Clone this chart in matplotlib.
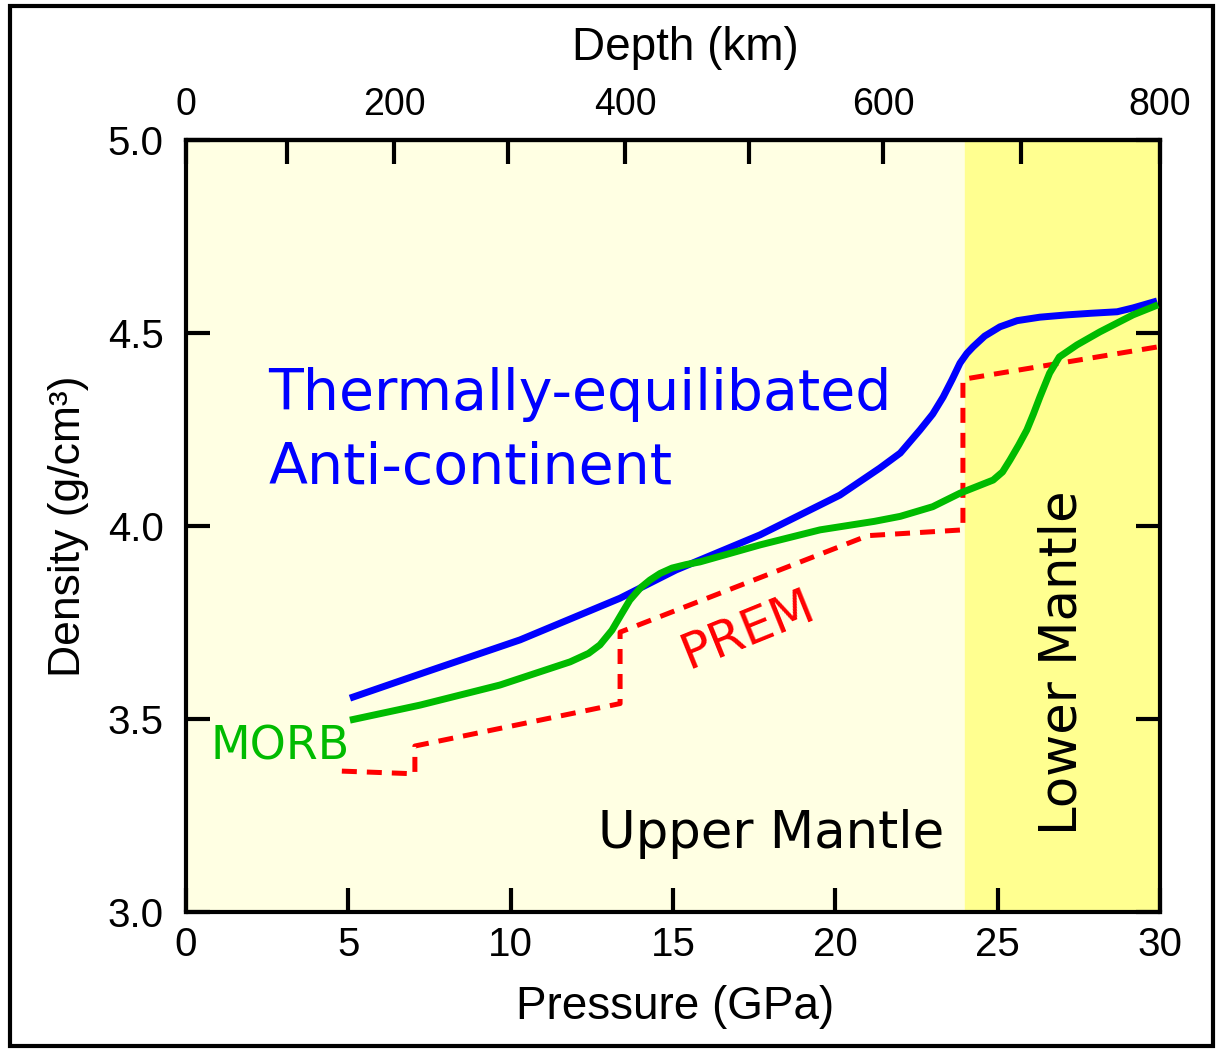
import matplotlib
matplotlib.use("Agg")
import matplotlib.pyplot as plt
from matplotlib.patches import Rectangle
import numpy as np

# Thermally-equilibrated anti-continent (blue)
blue_p = [5.05, 7.5, 10.29, 13.37, 15.09, 17.68, 20.14, 21.37, 22.0, 22.61, 23.0,
          23.32, 23.6, 23.84, 24.05, 24.24, 24.6, 25.07, 25.6, 26.3, 27.14, 27.85,
          28.68, 29.17, 29.91]
blue_d = [3.554, 3.625, 3.705, 3.813, 3.886, 3.977, 4.08, 4.15, 4.189, 4.249, 4.29,
          4.334, 4.38, 4.422, 4.447, 4.464, 4.492, 4.516, 4.532, 4.541, 4.547, 4.551,
          4.555, 4.565, 4.583]

# MORB (green)
morb_p = [5.05, 7.21, 9.67, 11.83, 12.4, 12.75, 13.12, 13.4, 13.67, 14.0, 14.29,
          14.6, 14.97, 15.4, 15.83, 17.68, 19.53, 21.2, 22.0, 23.0, 23.84, 24.5,
          24.86, 25.15, 25.38, 25.65, 25.9, 26.1, 26.3, 26.6, 26.9, 27.44, 28.15,
          29.17, 29.94]
morb_d = [3.497, 3.536, 3.588, 3.648, 3.67, 3.692, 3.73, 3.77, 3.808, 3.84, 3.86,
          3.877, 3.891, 3.9, 3.907, 3.951, 3.99, 4.012, 4.025, 4.05, 4.085, 4.107,
          4.119, 4.14, 4.171, 4.21, 4.249, 4.29, 4.334, 4.396, 4.438, 4.469, 4.503,
          4.547, 4.573]

# PREM (red dashed)
prem_p = [4.8, 7.05, 7.05, 13.37, 13.37, 21.0, 23.93, 23.93, 30.0]
prem_d = [3.365, 3.358, 3.43, 3.54, 3.725, 3.975, 3.99, 4.38, 4.465]

# depth (km) <-> pressure (GPa) for the top axis
depth_km = [0, 100, 200, 300, 400, 500, 600, 700, 800]
depth_p = [0, 3.11, 6.41, 9.92, 13.52, 17.34, 21.47, 25.72, 30.0]

axis_font = ["Liberation Sans Narrow", "Liberation Sans"]
note_font = ["DejaVu Sans"]

fig = plt.figure(figsize=(12.18, 10.51), dpi=100)
ax = fig.add_axes([186 / 1218, 1 - 912 / 1051, 974 / 1218, 772 / 1051])
ax.set_facecolor("#FFFFE3")
ax.axvspan(24, 30, color="#FFFF90", zorder=0)

ax.plot(blue_p, blue_d, color="#0000FF", lw=5, solid_capstyle="butt",
        solid_joinstyle="round", zorder=3)
ax.plot(morb_p, morb_d, color="#00BB00", lw=5, solid_capstyle="butt",
        solid_joinstyle="round", zorder=3)
ax.plot(prem_p, prem_d, color="#FF0000", lw=3.6, dashes=[3, 2], zorder=2)

ax.set_xlim(0, 30)
ax.set_ylim(3.0, 5.0)
ax.set_xticks([0, 5, 10, 15, 20, 25, 30])
ax.set_yticks([3.0, 3.5, 4.0, 4.5, 5.0])
ax.set_yticklabels(["3.0", "3.5", "4.0", "4.5", "5.0"])
ax.tick_params(direction="in", length=17, width=3, top=False, right=True,
               labelsize=29, color="black")
ax.tick_params(axis="x", pad=10)
ax.tick_params(axis="y", pad=16)
for lab in ax.get_xticklabels() + ax.get_yticklabels():
    lab.set_family(axis_font)
for s in ax.spines.values():
    s.set_linewidth(3)

ax.set_xlabel("Pressure (GPa)", fontsize=33, family=axis_font)
ax.xaxis.set_label_coords(0.502, -0.094)
ax.set_ylabel("Density (g/cm³)", fontsize=32, family=axis_font)
ax.yaxis.set_label_coords(-0.10, 0.5)

# top depth axis
def p2d(p):
    return np.interp(p, depth_p, depth_km)

def d2p(d):
    return np.interp(d, depth_km, depth_p)

top = ax.secondary_xaxis("top", functions=(p2d, d2p))
top.set_xticks([0, 200, 400, 600, 800])
top.set_xticks([100, 300, 500, 700], minor=True)
top.tick_params(which="both", direction="in", length=17, width=3,
                labelsize=27, pad=12)
for lab in top.get_xticklabels():
    lab.set_family(axis_font)
top.spines["top"].set_linewidth(3)
fig.text(685 / 1218, 1 - 48 / 1051, "Depth (km)", fontsize=33,
         family=axis_font, ha="center", va="center")

# annotations
ax.text(2.53, 4.30, "Thermally-equilibated", color="#0000FF", fontsize=41,
        family=note_font, va="baseline")
ax.text(2.53, 4.109, "Anti-continent", color="#0000FF", fontsize=41,
        family=note_font, va="baseline")
ax.text(0.74, 3.394, "MORB", color="#00BB00", fontsize=33, family=note_font,
        va="baseline")
ax.text(17.31, 3.73, "PREM", color="#FF0000", fontsize=36, family=note_font,
        rotation=22, ha="center", va="center", rotation_mode="anchor")
ax.text(12.69, 3.166, "Upper Mantle", color="black", fontsize=37,
        family=note_font, va="baseline")
ax.text(26.99, 3.645, "Lower Mantle", color="black", fontsize=37,
        family=note_font, rotation=90, ha="center", va="center")

fig.patches.append(Rectangle((10 / 1218, 5 / 1051), 1203 / 1218, 1040 / 1051,
                             transform=fig.transFigure, fill=False,
                             edgecolor="black", lw=3))

fig.savefig("out.png", dpi=100)
